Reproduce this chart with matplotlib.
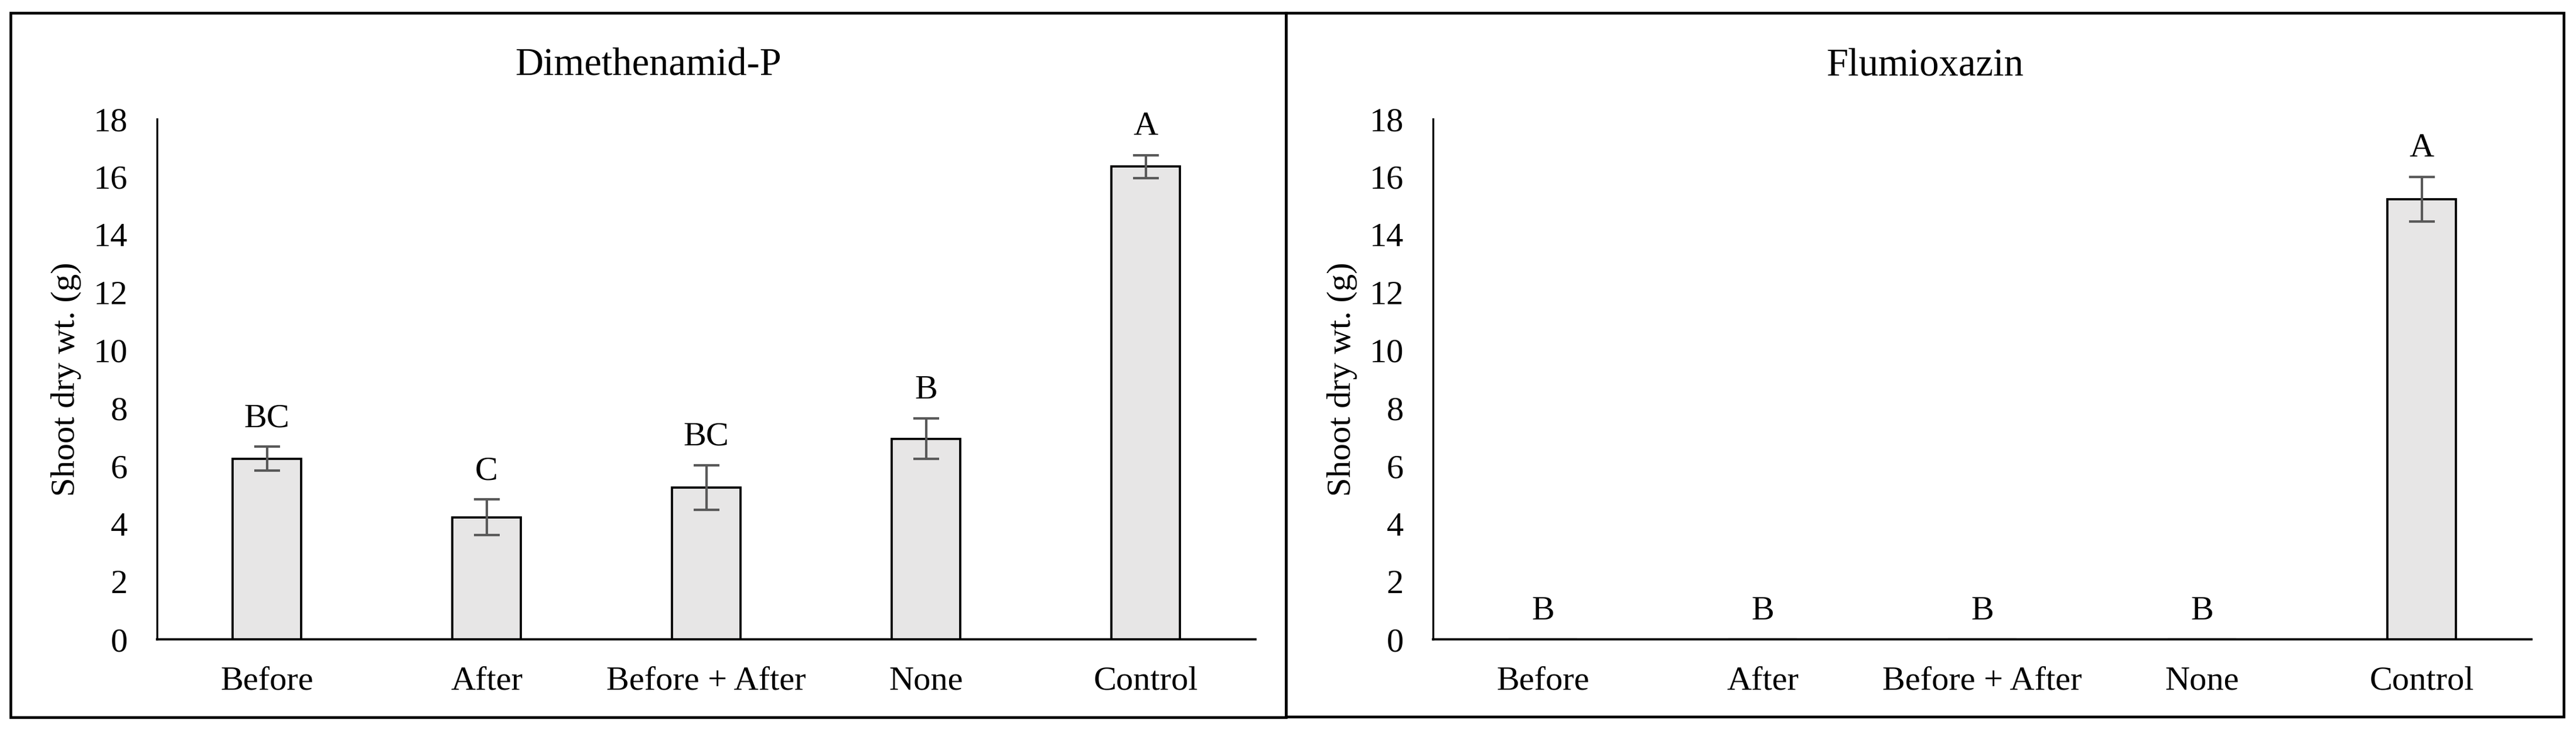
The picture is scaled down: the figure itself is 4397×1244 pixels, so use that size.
import matplotlib
matplotlib.use("Agg")
import matplotlib.pyplot as plt
from matplotlib.patches import Rectangle

plt.rcParams['font.family'] = ['Liberation Serif', 'DejaVu Serif']

# treatments on the x axis
treatments = ["Before", "After", "Before + After", "None", "Control"]

# shoot dry weight (g), mean and standard error
dmta_mean = [6.25, 4.22, 5.25, 6.94, 16.35]
dmta_se = [0.41, 0.62, 0.78, 0.70, 0.40]
dmta_letters = ["BC", "C", "BC", "B", "A"]

flum_mean = [0, 0, 0, 0, 15.23]
flum_se = [0, 0, 0, 0, 0.77]
flum_letters = ["B", "B", "B", "B", "A"]

titles = ["Dimethenamid-P", "Flumioxazin"]
yticks = [0, 2, 4, 6, 8, 10, 12, 14, 16, 18]

W, H = 4397, 1244
fig = plt.figure(figsize=(W / 300, H / 300), dpi=300)


def draw_panel(ax, title, means, ses, letters, box):
    x = list(range(len(treatments)))
    ax.bar(x, means, width=0.31, color="#E7E6E6", edgecolor="black", linewidth=0.9, zorder=2)
    for xi, m, s in zip(x, means, ses):
        if s > 0:
            ax.errorbar(xi, m, yerr=s, fmt="none", ecolor="#595959",
                        elinewidth=1.0, capsize=5.3, capthick=1.0, zorder=3)
    for xi, m, s, lab in zip(x, means, ses, letters):
        ax.text(xi, m + s + 0.45, lab, ha="center", va="bottom", fontsize=14)

    ax.set_xlim(-0.5, len(treatments) - 0.5)
    ax.set_ylim(0, 18)
    ax.set_yticks(yticks)
    ax.set_xticks(x)
    ax.set_xticklabels(treatments)
    ax.tick_params(axis="both", length=0, labelsize=14)
    ax.tick_params(axis="x", pad=11)
    ax.tick_params(axis="y", pad=12)
    ax.set_ylabel("Shoot dry wt. (g)", fontsize=14, labelpad=5)
    for side in ["top", "right"]:
        ax.spines[side].set_visible(False)
    ax.spines["left"].set_linewidth(0.8)
    ax.spines["bottom"].set_linewidth(0.9)

    # panel frame and title
    x0, y0, x1, y1 = box
    fig.add_artist(Rectangle((x0 / W, 1 - y1 / H), (x1 - x0) / W, (y1 - y0) / H,
                             transform=fig.transFigure, fill=False,
                             edgecolor="black", linewidth=1.1))
    fig.text((x0 + x1) / 2 / W, 1 - 112 / H, title, ha="center", va="center", fontsize=16)


ax1 = fig.add_axes([268 / W, 1 - 1091 / H, 1875 / W, 888 / H])
ax2 = fig.add_axes([2446 / W, 1 - 1091 / H, 1875 / W, 888 / H])

draw_panel(ax1, titles[0], dmta_mean, dmta_se, dmta_letters, (18, 22, 2195, 1224))
draw_panel(ax2, titles[1], flum_mean, flum_se, flum_letters, (2195, 22, 4376, 1223))

fig.savefig("out.png", dpi=300)
